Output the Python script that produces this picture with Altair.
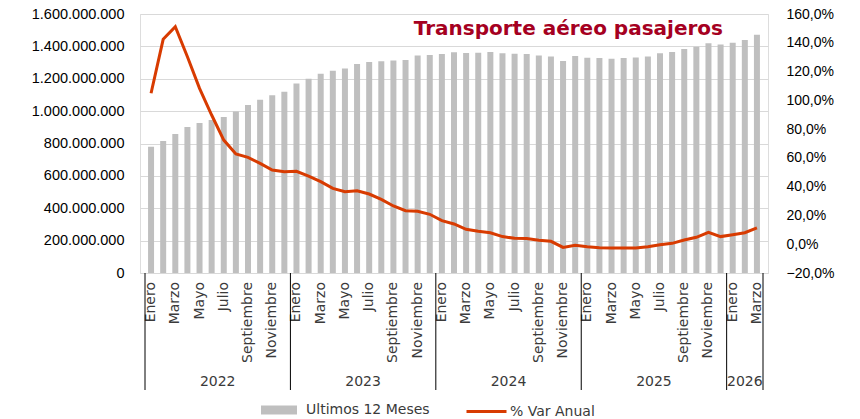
import altair as alt
import pandas as pd

# ---------------- data ----------------
years = ["2022", "2023", "2024", "2025", "2026"]
month_names = ["Enero", "Febrero", "Marzo", "Abril", "Mayo", "Junio", "Julio",
               "Agosto", "Septiembre", "Octubre", "Noviembre", "Diciembre"]
months_per_year = [12, 12, 12, 12, 3]

# Ultimos 12 meses (millones de pasajeros)
total_millones = [
    780, 815, 859, 902, 927, 945, 964, 997, 1038, 1071, 1098, 1120,
    1170, 1200, 1231, 1250, 1264, 1291, 1303, 1308, 1312, 1316, 1343, 1347,
    1353, 1363, 1359, 1361, 1365, 1357, 1355, 1353, 1343, 1338, 1310, 1341,
    1330, 1328, 1324, 1328, 1332, 1338, 1357, 1365, 1384, 1398, 1419, 1411,
    1423, 1439, 1472,
]
# % Var Anual
var_anual = [
    104.9, 142.4, 151.2, 130.3, 108.3, 89.8, 72.4, 62.7, 60.4, 56.2, 51.6, 50.4,
    50.7, 47.4, 43.5, 38.8, 36.5, 37.2, 34.9, 31.2, 26.6, 23.3, 22.9, 20.8,
    16.4, 14.1, 10.4, 9.0, 8.0, 5.3, 4.1, 3.9, 2.7, 2.0, -2.2, -0.8,
    -1.7, -2.4, -2.6, -2.6, -2.6, -1.7, -0.3, 0.6, 2.9, 4.8, 8.3, 5.3,
    6.6, 8.0, 11.3,
]

# ---------------- tables ----------------
rows = []
i = 0
for y, n in zip(years, months_per_year):
    for m in range(n):
        rows.append({"idx": i, "year": y, "mnum": m, "month": month_names[m],
                     "total": total_millones[i] * 1_000_000, "var": var_anual[i],
                     "sb": "Ultimos 12 Meses", "sl": "% Var Anual"})
        i += 1
df = pd.DataFrame(rows)

month_df = df[df["mnum"] % 2 == 0]
year_df = df.groupby("year", as_index=False)["idx"].mean()
bounds = [-0.5] + list(df.groupby("year")["idx"].max() + 0.5)
sep_df = pd.DataFrame({"b": bounds})

FONT = "DejaVu Sans"
TXT = "#3A3A3A"
xscale = alt.Scale(domain=[-0.5, len(df) - 0.5], nice=False, zero=False)

bars = alt.Chart(df).mark_bar(width=6).encode(
    x=alt.X("idx:Q", scale=xscale,
            axis=alt.Axis(labels=False, ticks=False, grid=False, title=None,
                          domainColor="black", domainWidth=1)),
    y=alt.Y("total:Q", scale=alt.Scale(domain=[0, 1_600_000_000], nice=False),
            axis=alt.Axis(values=list(range(0, 1_600_000_001, 200_000_000)),
                          title=None, domain=False, ticks=False, grid=True,
                          gridColor="#D9D9D9", labelPadding=16,
                          labelFontSize=14.5,
                          labelExpr="replace(replace(replace(format(datum.value, ',d'), ',', '.'), ',', '.'), ',', '.')")),
    fill=alt.Fill("sb:N", scale=alt.Scale(domain=["Ultimos 12 Meses"], range=["#BFBFBF"]),
                  legend=alt.Legend(title=None, orient="none", legendX=121, legendY=378,
                                    symbolType="M-1,-0.25H1V0.25H-1Z", symbolSize=1296,
                                    symbolStrokeWidth=0, padding=0, labelOffset=9,
                                    labelFontSize=14, labelFont=FONT, labelColor=TXT)),
)

line = alt.Chart(df).mark_line(strokeWidth=3).encode(
    x=alt.X("idx:Q", scale=xscale, axis=None),
    y=alt.Y("var:Q", scale=alt.Scale(domain=[-20, 160], nice=False),
            axis=alt.Axis(orient="right", values=list(range(-20, 161, 20)), title=None,
                          domain=False, ticks=False, grid=False, labelPadding=18,
                          labelFontSize=14,
                          labelExpr="replace(format(datum.value, '.1f'), '.', ',') + '%'")),
    stroke=alt.Stroke("sl:N", scale=alt.Scale(domain=["% Var Anual"], range=["#D83B01"]),
                      legend=alt.Legend(title=None, orient="none", legendX=325, legendY=376,
                                        symbolType="stroke", symbolSize=1600,
                                        symbolStrokeWidth=3, padding=0, labelOffset=2,
                                        labelFontSize=14, labelFont=FONT, labelColor=TXT)),
)

months = alt.Chart(month_df).mark_text(angle=270, align="right", baseline="middle",
                                       font=FONT, fontSize=14, color=TXT).encode(
    x=alt.X("idx:Q", scale=xscale, axis=None),
    y=alt.value(268),
    text="month:N",
)

yrs = alt.Chart(year_df).mark_text(align="center", baseline="middle",
                                   font=FONT, fontSize=14, color=TXT).encode(
    x=alt.X("idx:Q", scale=xscale, axis=None),
    y=alt.value(368),
    text="year:N",
)

seps = alt.Chart(sep_df).mark_rule(color="black", strokeWidth=1).encode(
    x=alt.X("b:Q", scale=xscale, axis=None),
    y=alt.value(259),
    y2=alt.value(376),
)

chart = alt.layer(bars, line, months, yrs, seps).resolve_scale(
    y="independent"
).properties(
    width=628,
    height=259,
    autosize=alt.AutoSizeParams(type="none"),
    padding={"left": 132, "top": 6, "right": 84, "bottom": 146},
    title=alt.TitleParams("Transporte aéreo pasajeros", anchor="end", frame="group",
                          dx=-45, dy=49, offset=0, baseline="alphabetic", font=FONT,
                          fontSize=20, fontWeight="bold", color="#A50021"),
).configure_view(stroke=None).configure_axis(
    labelFont=FONT, labelColor=TXT
).configure(background="white")

chart.save("out.html", embed_options={"renderer": "svg", "actions": False})
